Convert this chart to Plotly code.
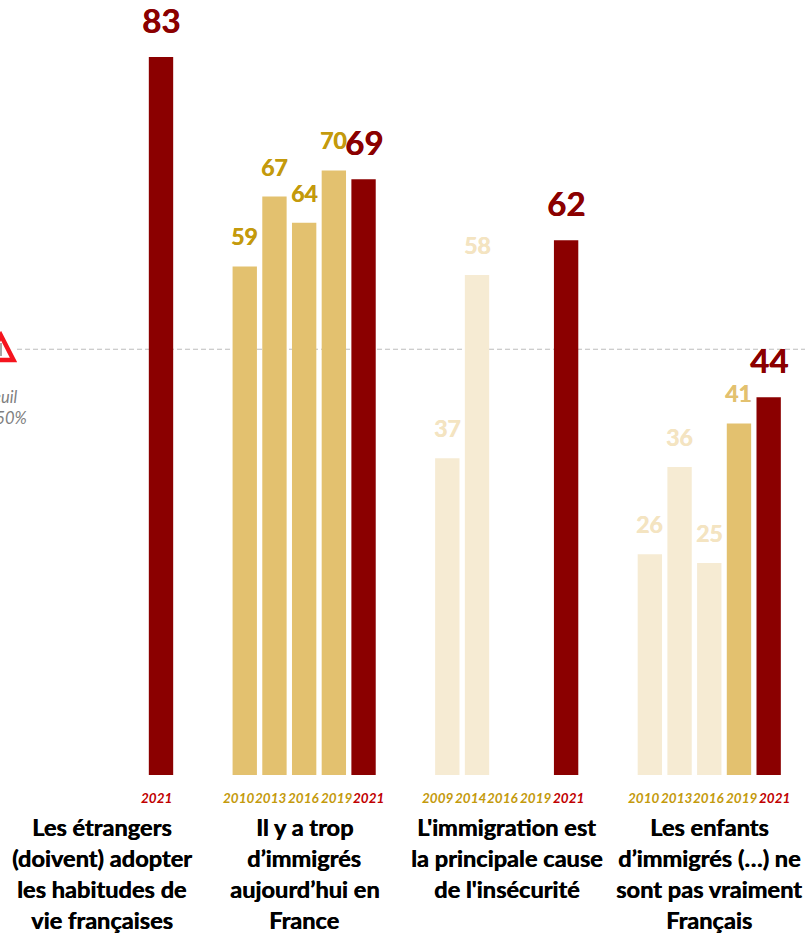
import plotly.graph_objects as go

W, H = 805, 933
BASE_PX, PX_PER_UNIT, Y_MIN = 775, 8.724, 0.7
SLOT_PX, LEFT_PX = 29.7, 42.2
GROUP_PITCH = 6.82
YEAR_PITCH = 1.10

groups = [
    ["Les étrangers", "(doivent) adopter", "les habitudes de", "vie françaises"],
    ["Il y a trop", "d’immigrés", "aujourd’hui en", "France"],
    ["L'immigration est", "la principale cause", "de l'insécurité"],
    ["Les enfants", "d’immigrés (…) ne", "sont pas vraiment", "Français"],
]
years = [
    [None, None, None, None, "2021"],
    ["2010", "2013", "2016", "2019", "2021"],
    ["2009", "2014", "2016", "2019", "2021"],
    ["2010", "2013", "2016", "2019", "2021"],
]
values = [
    [None, None, None, None, 83],
    [59, 67, 64, 70, 69],
    [37, 58, None, None, 62],
    [26, 36, 25, 41, 44],
]
tones = [
    [None, None, None, None, "now"],
    ["mid", "mid", "mid", "mid", "now"],
    ["pale", "pale", None, None, "now"],
    ["pale", "pale", "pale", "mid", "now"],
]
label_tones = [
    [None, None, None, None, "now"],
    ["dark", "dark", "dark", "dark", "now"],
    ["pale", "pale", None, None, "now"],
    ["pale", "pale", "pale", "mid", "now"],
]
year_shift = [-10.4, -0.5, -3.8, -0.5]
threshold = 49.5

BAR = {"now": "#8B0000", "mid": "#E3C16F", "pale": "#F6EBD3"}
LABEL = {"now": "#8B0000", "dark": "#C49A0C", "mid": "#E3C16F", "pale": "#F4E4C1"}
FONT = "Lato"


def bold_font(size, color):
    return dict(family=FONT, weight=700, size=size, color=color, shadow=f"0.5px 0 0 {color}")


x_all, y_all, c_all = [], [], []
ann = []
for g, (vals, ts, ls, ys) in enumerate(zip(values, tones, label_tones, years)):
    centre = g * GROUP_PITCH + 2
    for i, (v, t, l, yr) in enumerate(zip(vals, ts, ls, ys)):
        x = g * GROUP_PITCH + i
        if v is not None:
            x_all.append(x); y_all.append(v); c_all.append(BAR[t])
            now = t == "now"
            ann.append(dict(x=x, y=v, yshift=37 if now else 30, text=str(v), showarrow=False, yanchor="middle",
                            font=bold_font(33 if now else 23, LABEL[l])))
        if yr is not None:
            ann.append(dict(x=centre + (i - 2) * YEAR_PITCH, xshift=year_shift[g], y=Y_MIN, yshift=-23,
                            text=f"<i>{yr}</i>", showarrow=False, yanchor="middle",
                            font=dict(family=FONT, weight=700, size=13.5, color="#C00000" if yr == "2021" else "#C49A0C")))
    for k, line in enumerate(groups[g]):
        ann.append(dict(x=centre, y=Y_MIN, yshift=-(52 + k * 31), text=line, showarrow=False,
                        yanchor="middle", font=bold_font(23.6, "#000000")))

fig = go.Figure(go.Bar(x=x_all, y=y_all, width=0.82, marker=dict(color=c_all, line_width=0), hoverinfo="skip"))

x0 = -LEFT_PX / SLOT_PX


def py(p):  # page pixel -> paper fraction of the plot area
    return (BASE_PX - p) / BASE_PX


ann.append(dict(xref="paper", x=1 / W, yref="paper", y=py(407), text="<i>Seuil<br>de 50%</i>", showarrow=False,
                xanchor="center", yanchor="middle", align="center",
                font=dict(family=FONT, size=16.5, color="#7F7F7F")))

shapes = [
    dict(type="line", xref="paper", x0=17 / W, x1=1, yref="y", y0=threshold, y1=threshold, layer="below",
         line=dict(color="#BDBDBD", width=1.2, dash="5px,3px")),
    dict(type="path", xref="paper", yref="paper", layer="above",
         path=f"M {-12/W} {py(360)} L {1/W} {py(335.5)} L {13.5/W} {py(360)} Z",
         fillcolor="#FFFFFF", line=dict(color="#F5141E", width=4.5)),
    dict(type="line", xref="paper", yref="paper", x0=1 / W, x1=1 / W, y0=py(343), y1=py(356), layer="above",
         line=dict(color="#A6A6A6", width=2)),
]

fig.update_layout(
    width=W, height=H, margin=dict(l=0, r=0, t=0, b=H - BASE_PX, pad=0),
    paper_bgcolor="white", plot_bgcolor="white", showlegend=False, annotations=ann, shapes=shapes,
    xaxis=dict(range=[x0, x0 + W / SLOT_PX], visible=False, fixedrange=True),
    yaxis=dict(range=[Y_MIN, Y_MIN + BASE_PX / PX_PER_UNIT], visible=False, fixedrange=True),
)
fig.write_html("out.html", config={"displayModeBar": False},
               post_script="document.body.style.margin='0';document.body.style.overflow='hidden';")
